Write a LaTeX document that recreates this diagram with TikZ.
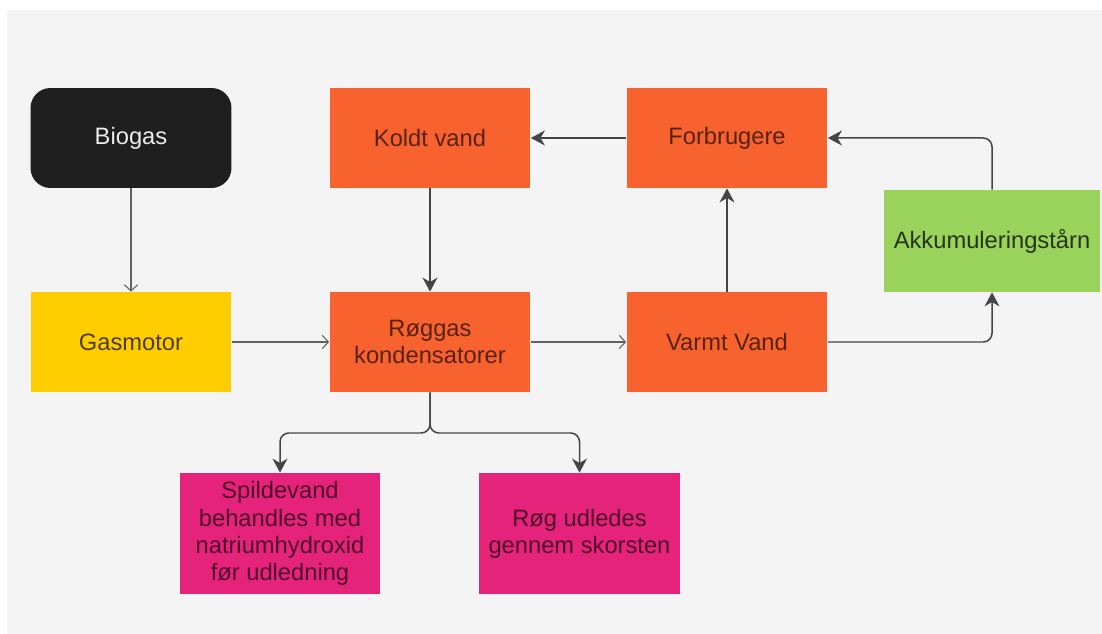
\documentclass[tikz,border=0pt]{standalone}
\usepackage{fontspec}
\setmainfont{Liberation Sans}
\usetikzlibrary{arrows.meta}

\definecolor{BG}{HTML}{F4F4F4}
\definecolor{BK}{HTML}{1E1E1E}
\definecolor{GY}{HTML}{FFCD00}
\definecolor{OR}{HTML}{F8622E}
\definecolor{GR}{HTML}{99D35B}
\definecolor{PK}{HTML}{E5237A}
\definecolor{LN}{HTML}{454545}

\begin{document}
\begin{tikzpicture}[x=0.02cm, y=-0.02cm, every node/.style={rectangle, align=center, inner sep=2pt, minimum width=4.02cm, minimum height=2cm, font=\fontsize{13.5}{15.5}\selectfont}]
    \useasboundingbox (0,0) rectangle (1102,634);
    \fill[BG] (7,10) rectangle (1102,634);
    \node[fill=BK,text=white!92!black,rounded corners=0.4cm] (B) at (131,138) {Biogas};
    \node[fill=GY,text=GY!30!black] (G) at (131,342) {Gasmotor};
    \node[fill=OR,text=OR!35!black] (K) at (430,138) {Koldt vand};
    \node[fill=OR,text=OR!35!black] (R) at (430,342) {Røggas\\kondensatorer};
    \node[fill=OR,text=OR!35!black] (F) at (727,138) {Forbrugere};
    \node[fill=OR,text=OR!35!black] (V) at (727,342) {Varmt Vand};
    \node[fill=GR,text=GR!25!black,minimum width=4.32cm,minimum height=2.04cm] (A) at (992,241) {Akkumuleringstårn};
    \node[fill=PK,text=PK!35!black,minimum height=2.42cm] (S) at (280,533.5) {Spildevand\\behandles med\\natriumhydroxid\\før udledning};
    \node[fill=PK,text=PK!35!black,minimum height=2.42cm] (U) at (579.5,533.5) {Røg udledes\\gennem skorsten};
    \coordinate (J) at (430,433);
    \draw[LN!85!white, line width=0.6pt, -{Straight Barb[length=3.5pt,width=7.5pt]}] (B) -- (G);
    \draw[LN!85!white, line width=0.6pt, -{Straight Barb[length=3.5pt,width=7.5pt]}] (G) -- (R);
    \draw[LN!85!white, line width=0.6pt, -{Straight Barb[length=3.5pt,width=7.5pt]}] (R) -- (V);
    \draw[LN, line width=0.85pt, -{Stealth[length=8pt,width=8.5pt,inset=2.5pt]}] (K) -- (R);
    \draw[LN, line width=0.85pt, -{Stealth[length=8pt,width=8.5pt,inset=2.5pt]}] (V) -- (F);
    \draw[LN, line width=0.85pt, -{Stealth[length=8pt,width=8.5pt,inset=2.5pt]}] (F) -- (K);
    \draw[LN, line width=0.85pt, rounded corners=5pt, -{Stealth[length=8pt,width=8.5pt,inset=2.5pt]}] (V.east) -| (A.south);
    \draw[LN, line width=0.85pt, rounded corners=5pt, -{Stealth[length=8pt,width=8.5pt,inset=2.5pt]}] (A.north) |- (F.east);
    \draw[LN, line width=0.85pt, rounded corners=5pt, -{Stealth[length=8pt,width=8.5pt,inset=2.5pt]}] (R.south) -- (J) -| (S.north);
    \draw[LN, line width=0.85pt, rounded corners=5pt, -{Stealth[length=8pt,width=8.5pt,inset=2.5pt]}] (R.south) -- (J) -| (U.north);
\end{tikzpicture}
\end{document}
